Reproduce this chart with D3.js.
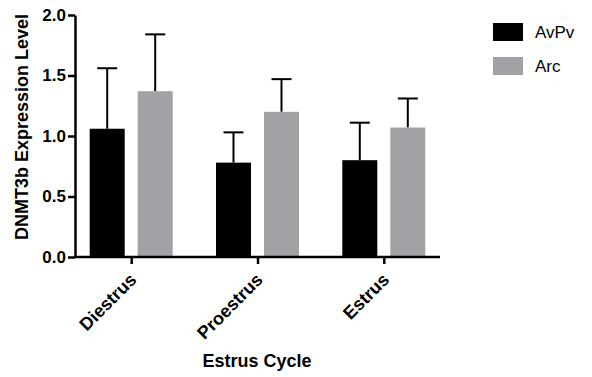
<!DOCTYPE html>
<html>
<head>
<meta charset="utf-8">
<script src="https://cdn.jsdelivr.net/npm/d3@7"></script>
<style>
  body { margin: 0; background: #fff; }
  text { font-family: "Liberation Sans", Arial, sans-serif; }
</style>
</head>
<body>
<svg class="chart" width="592" height="377"></svg>
<script>
var categories = ["Diestrus", "Proestrus", "Estrus"];
var seriesNames = ["AvPv", "Arc"];
var avpvMean = [1.06, 0.78, 0.80];
var avpvErr = [0.50, 0.25, 0.31];
var arcMean = [1.37, 1.20, 1.07];
var arcErr = [0.47, 0.27, 0.24];
var yTicks = [0, 0.5, 1.0, 1.5, 2.0];
var colors = ["#000000", "#a2a1a6"];

var svg = d3.select(".chart");

var plotLeft = 75, plotRight = 440, plotTop = 15, plotBottom = 257;

var x = d3.scalePoint()
  .domain(categories)
  .range([plotLeft, plotRight])
  .padding(0.445);

var y = d3.scaleLinear()
  .domain([0, 2])
  .range([plotBottom, plotTop]);

var barWidth = 35, offset = 24, capW = 20;

var data = [];
categories.forEach(function(c, i) {
  data.push({cat: c, s: 0, v: avpvMean[i], e: avpvErr[i]});
  data.push({cat: c, s: 1, v: arcMean[i], e: arcErr[i]});
});

function cx(d) { return x(d.cat) + (d.s === 0 ? -offset : offset); }

// error bars (drawn under bars)
var err = svg.append("g").attr("class", "errors");
err.selectAll("line.stem").data(data).enter().append("line")
  .attr("x1", cx).attr("x2", cx)
  .attr("y1", function(d) { return y(d.v); })
  .attr("y2", function(d) { return y(d.v + d.e); })
  .attr("stroke", "#000").attr("stroke-width", 2);
err.selectAll("line.cap").data(data).enter().append("line")
  .attr("x1", function(d) { return cx(d) - capW / 2; })
  .attr("x2", function(d) { return cx(d) + capW / 2; })
  .attr("y1", function(d) { return y(d.v + d.e); })
  .attr("y2", function(d) { return y(d.v + d.e); })
  .attr("stroke", "#000").attr("stroke-width", 2);

svg.selectAll("rect.bar").data(data).enter().append("rect")
  .attr("class", "bar")
  .attr("x", function(d) { return cx(d) - barWidth / 2; })
  .attr("y", function(d) { return y(d.v); })
  .attr("width", barWidth)
  .attr("height", function(d) { return plotBottom - y(d.v); })
  .attr("fill", function(d) { return colors[d.s]; });

// y axis
var yAxis = svg.append("g")
  .attr("transform", "translate(" + plotLeft + ",0)")
  .call(d3.axisLeft(y).tickValues(yTicks).tickFormat(d3.format(".1f")).tickSize(7).tickSizeOuter(0));
yAxis.select(".domain").attr("stroke-width", 2.5);
yAxis.selectAll(".tick line").attr("stroke-width", 2.5);
yAxis.selectAll("text")
  .attr("font-size", 17).attr("font-weight", "bold").attr("fill", "#000")
  .attr("x", -9).attr("font-family", "Liberation Sans, Arial, sans-serif");

// x axis
var xAxis = svg.append("g")
  .attr("transform", "translate(0," + plotBottom + ")")
  .call(d3.axisBottom(x).tickSize(7).tickSizeOuter(0));
xAxis.select(".domain").attr("d", "M" + (plotLeft - 1) + ",0H" + plotRight).attr("stroke-width", 2.5);
xAxis.selectAll(".tick line").attr("stroke-width", 2.5);
xAxis.selectAll("text")
  .attr("font-size", 18).attr("font-weight", "bold").attr("fill", "#000")
  .attr("font-family", "Liberation Sans, Arial, sans-serif")
  .attr("text-anchor", "end")
  .attr("dy", "0.7em")
  .attr("transform", "translate(-3,15) rotate(-45)")
  .attr("y", 0).attr("x", 0);

// axis titles
svg.append("text")
  .attr("transform", "translate(28," + ((plotTop + plotBottom) / 2 - 9) + ") rotate(-90)")
  .attr("text-anchor", "middle")
  .attr("font-size", 18).attr("font-weight", "bold")
  .text("DNMT3b Expression Level");

svg.append("text")
  .attr("x", 257).attr("y", 367)
  .attr("text-anchor", "middle")
  .attr("font-size", 18).attr("font-weight", "bold")
  .text("Estrus Cycle");

// legend
var legend = svg.selectAll("g.legend").data(seriesNames).enter().append("g")
  .attr("class", "legend")
  .attr("transform", function(d, i) { return "translate(493," + (23 + i * 34) + ")"; });
legend.append("rect")
  .attr("width", 30).attr("height", 18)
  .attr("fill", function(d, i) { return colors[i]; });
legend.append("text")
  .attr("x", 42).attr("y", 15)
  .attr("font-size", 17)
  .text(function(d) { return d; });
</script>
</body>
</html>
